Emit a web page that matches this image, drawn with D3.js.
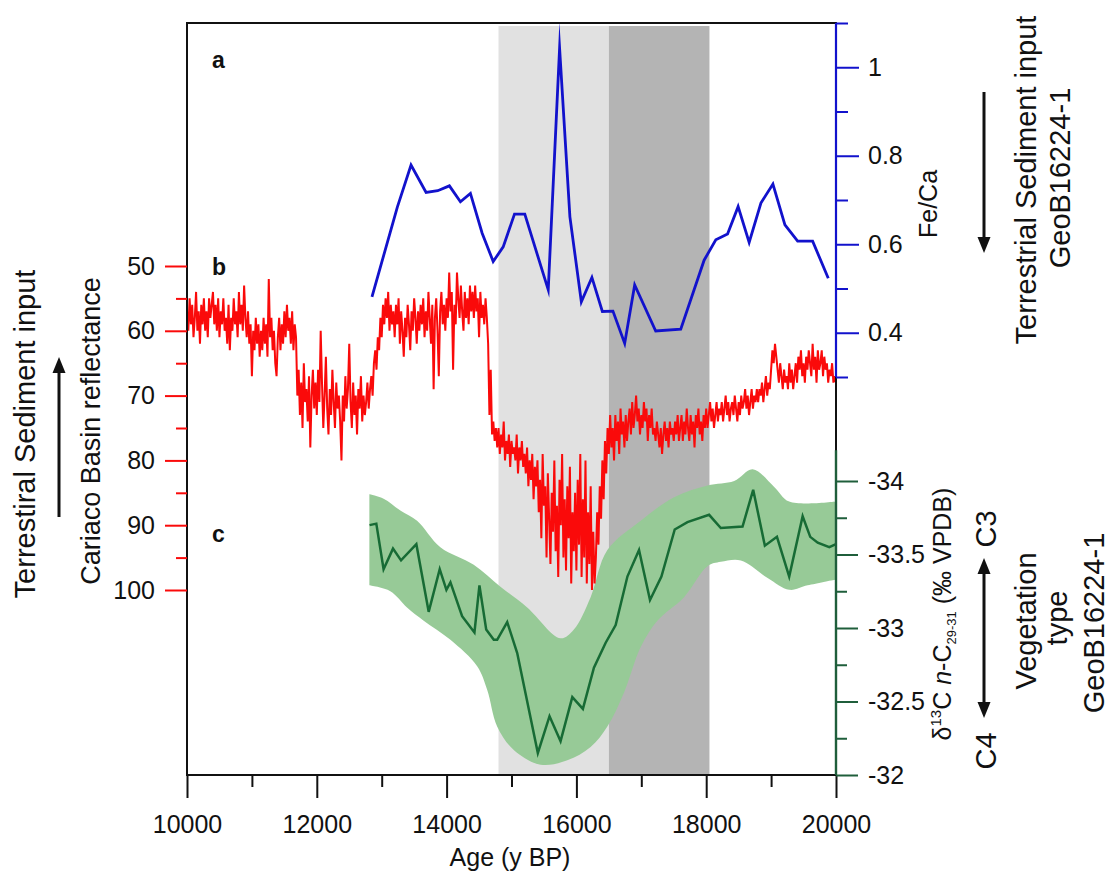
<!DOCTYPE html>
<html>
<head>
<meta charset="utf-8">
<script src="https://cdn.jsdelivr.net/npm/d3@7"></script>
<style>
  body { margin: 0; background: #fff; }
  svg text { font-family: "Liberation Sans", Arial, sans-serif; fill: #111; }
</style>
</head>
<body>
<script>
  // ---- data ----
  const bandLight = [14800, 16500]
  const bandDark = [16500, 18050]

  // a: Fe/Ca GeoB16224-1
  const feAge = [12850, 13241, 13452, 13684, 13863, 14043, 14213, 14367, 14548, 14718,
    14872, 15046, 15205, 15566, 15741, 15900, 16076, 16239, 16400, 16563,
    16744, 16898, 17222, 17608, 17968, 18148, 18329, 18492, 18662, 18843,
    19028, 19213, 19409, 19640, 19881]
  const feCa = [0.481, 0.684, 0.779, 0.717, 0.721, 0.732, 0.696, 0.715, 0.625, 0.561,
    0.594, 0.668, 0.668, 0.497, 1.043, 0.662, 0.470, 0.525, 0.448, 0.449,
    0.376, 0.508, 0.404, 0.408, 0.564, 0.610, 0.623, 0.685, 0.604, 0.693,
    0.736, 0.644, 0.607, 0.607, 0.523]

  // b: Cariaco Basin reflectance, one value every 20 years from 10000 (rows of 400 y)
  const reflStart = 10000
  const reflStep = 20
  const refl = [
    57, 60, 55, 59, 56, 61, 58, 54, 60, 57, 62, 56, 59, 55, 60, 57, 61, 55, 58, 56,
    54, 59, 56, 60, 55, 61, 57, 59, 55, 60, 58, 62, 56, 63, 58, 60, 55, 59, 57, 61,
    54, 59, 56, 60, 53, 58, 61, 57, 62, 59, 67, 60, 63, 58, 62, 59, 64, 60, 63, 58,
    62, 59, 64, 52, 61, 58, 63, 60, 65, 67, 61, 58, 63, 59, 62, 57, 61, 56, 60, 58,
    62, 57, 63, 59, 61, 70, 66, 73, 68, 75, 65, 71, 69, 74, 67, 78, 70, 66, 72, 68,
    73, 66, 71, 60, 68, 75, 70, 64, 72, 76, 69, 73, 66, 71, 75, 68, 72, 70, 74, 80,
    70, 74, 67, 72, 69, 62, 71, 75, 68, 73, 70, 76, 69, 72, 67, 74, 70, 73, 71, 68,
    72, 69, 67, 70, 65, 63, 66, 61, 63, 58, 61, 56, 59, 55, 58, 54, 60, 56, 59, 57,
    61, 56, 59, 55, 62, 57, 60, 64, 58, 61, 56, 59, 63, 57, 60, 55, 58, 62, 57, 60,
    56, 59, 55, 61, 57, 60, 54, 58, 62, 56, 69, 58, 55, 60, 67, 57, 54, 59, 56, 60,
    55, 58, 51, 57, 54, 66, 56, 59, 51, 55, 58, 53, 57, 60, 54, 58, 55, 59, 53, 57,
    54, 58, 53, 57, 55, 61, 54, 58, 56, 59, 55, 58, 62, 73, 66, 76, 74, 77, 75, 78,
    75, 79, 76, 78, 74, 80, 77, 79, 76, 81, 77, 79, 78, 80, 76, 82, 78, 80, 77, 81,
    79, 82, 78, 84, 80, 83, 79, 86, 81, 84, 80, 88, 83, 92, 79, 87, 84, 95, 82, 89,
    96, 85, 91, 80, 94, 87, 98, 83, 90, 79, 95, 86, 97, 84, 92, 81, 99, 88, 94, 85,
    97, 83, 93, 79, 98, 86, 95, 80, 99, 88, 96, 84, 100, 91, 99, 95, 88, 93, 84, 89,
    80, 86, 77, 82, 75, 79, 73, 78, 75, 80, 73, 77, 74, 79, 72, 76, 74, 78, 73, 77,
    74, 72, 76, 71, 75, 73, 70, 74, 72, 76, 73, 75, 71, 74, 72, 77, 73, 75, 72, 76,
    75, 77, 74, 76, 78, 75, 79, 76, 74, 77, 75, 78, 74, 76, 75, 77, 74, 76, 73, 77,
    75, 73, 77, 74, 76, 72, 75, 77, 73, 76, 74, 78, 73, 75, 72, 76, 74, 77, 73, 75,
    72, 75, 73, 71, 74, 72, 75, 73, 71, 74, 72, 73, 71, 74, 72, 70, 73, 71, 74, 72,
    71, 73, 70, 72, 74, 71, 73, 70, 72, 71, 69, 72, 70, 73, 71, 69, 72, 70, 71, 69,
    71, 69, 70, 68, 71, 69, 67, 70, 68, 69, 66, 63, 65, 62, 64, 66, 68, 65, 67, 69,
    66, 68, 67, 69, 65, 68, 66, 69, 67, 65, 68, 64, 66, 63, 67, 65, 68, 64, 66, 63,
    65, 67, 62, 66, 64, 68, 63, 66, 65, 63, 67, 64, 66, 65, 68, 66, 67, 65, 68, 67,
    68]

  // c: d13C n-C29-31 and its envelope
  const d13Age = [12813, 12917, 13029, 13174, 13298, 13534, 13724, 13894, 13997, 14059,
    14239, 14429, 14506, 14610, 14727, 14779, 14934, 15088, 15406, 15586,
    15756, 15937, 16100, 16270, 16451, 16605, 16786, 16965, 17134, 17310,
    17515, 17711, 18045, 18225, 18560, 18724, 18904, 19090, 19279, 19486,
    19603, 19718, 19897, 20000]
  const d13C = [-33.70, -33.71, -33.40, -33.54, -33.46, -33.57, -33.11, -33.40, -33.26, -33.31,
    -33.08, -32.97, -33.29, -32.99, -32.92, -32.92, -33.04, -32.83, -32.15, -32.40,
    -32.23, -32.53, -32.45, -32.73, -32.90, -33.02, -33.35, -33.53, -33.19, -33.35,
    -33.67, -33.72, -33.77, -33.68, -33.69, -33.94, -33.56, -33.62, -33.35, -33.76,
    -33.62, -33.58, -33.55, -33.57]
  const envUpperAge = [12810, 13029, 13287, 13545, 13904, 14418, 14830, 15242, 15756, 15961,
    16219, 16477, 16991, 17505, 18020, 18431, 18715, 19048, 19279, 20000]
  const envUpper = [-33.91, -33.88, -33.80, -33.73, -33.55, -33.43, -33.28, -33.14, -32.93, -32.99,
    -33.21, -33.53, -33.73, -33.89, -33.97, -34.00, -34.08, -33.96, -33.86, -33.86]
  const envLowerAge = [12810, 13133, 13390, 13647, 14059, 14471, 14625, 14779, 15035, 15448,
    15860, 16219, 16477, 16733, 16991, 17248, 17659, 18020, 18225, 18534,
    18946, 19279, 19563, 20000]
  const envLower = [-33.29, -33.25, -33.14, -33.05, -32.92, -32.74, -32.58, -32.33, -32.17, -32.07,
    -32.10, -32.19, -32.33, -32.56, -32.87, -33.05, -33.21, -33.42, -33.45, -33.46,
    -33.34, -33.26, -33.29, -33.33]

  const ageTicks = [10000, 12000, 14000, 16000, 18000, 20000]
  const ageMinor = [11000, 13000, 15000, 17000, 19000]
  const reflTicks = [50, 60, 70, 80, 90, 100]
  const reflMinor = [55, 65, 75, 85, 95]
  const feTicks = [0.4, 0.6, 0.8, 1]
  const feMinor = [0.3, 0.5, 0.7, 0.9, 1.1]
  const d13Ticks = [-34, -33.5, -33, -32.5, -32]
  const d13Minor = [-33.75, -33.25, -32.75, -32.25]

  // ---- layout ----
  const W = 1112, H = 873
  const L = 187, R = 836, T = 23, B = 775
  const red = '#fa0a0a', blue = '#1212cc', green = '#176b35', greenAxis = '#1f5e3b', greenFill = '#97ca97'
  const tickFont = 25, bigFont = 29

  const svg = d3.select('body').append('svg').attr('width', W).attr('height', H)

  const x = d3.scaleLinear().domain([10000, 20000]).range([L, R])
  const yFe = d3.scaleLinear().domain([0.3, 1.1]).range([377, T])
  const yRefl = d3.scaleLinear().domain([50, 100]).range([266, 590])
  const yD13 = d3.scaleLinear().domain([-32, -34]).range([B, 481])

  // shaded intervals
  svg.append('rect').attr('x', x(bandLight[0])).attr('y', 26)
    .attr('width', x(bandLight[1]) - x(bandLight[0])).attr('height', B - 26).attr('fill', '#e1e1e1')
  svg.append('rect').attr('x', x(bandDark[0])).attr('y', 26)
    .attr('width', x(bandDark[1]) - x(bandDark[0])).attr('height', B - 26).attr('fill', '#b4b4b4')

  // envelope: smooth edges, straight ends
  const smooth = d3.line().curve(d3.curveCatmullRom.alpha(0.5))
  const upperPath = smooth(envUpperAge.map((a, i) => [x(a), yD13(envUpper[i])]))
  const lowerPath = smooth(envLowerAge.map((a, i) => [x(a), yD13(envLower[i])]).reverse())
  svg.append('path')
    .attr('d', upperPath + 'L' + lowerPath.slice(1) + 'Z')
    .attr('fill', greenFill)

  const lineGen = d3.line().x(d => d[0]).y(d => d[1])

  svg.append('path')
    .attr('d', lineGen(d13Age.map((a, i) => [x(a), yD13(d13C[i])])))
    .attr('fill', 'none').attr('stroke', green).attr('stroke-width', 2.5)

  svg.append('path')
    .attr('d', lineGen(refl.map((v, i) => [x(reflStart + i * reflStep), yRefl(v)])))
    .attr('fill', 'none').attr('stroke', red).attr('stroke-width', 2)

  svg.append('path')
    .attr('d', lineGen(feAge.map((a, i) => [x(a), yFe(feCa[i])])))
    .attr('fill', 'none').attr('stroke', blue).attr('stroke-width', 2.8)
    .attr('stroke-linejoin', 'miter').attr('stroke-miterlimit', 20)

  // ---- axes ----
  function styleAxis(g, color, size) {
    g.select('.domain').remove()
    g.selectAll('line').attr('stroke', color).attr('stroke-width', 2)
    g.selectAll('text').attr('font-size', size).style('fill', '#111')
  }

  // frame
  svg.append('path')
    .attr('d', `M${L},${T}H${R}V${B}H${L}Z`)
    .attr('fill', 'none').attr('stroke', '#111').attr('stroke-width', 2)

  // bottom
  svg.append('g').attr('transform', `translate(0,${B})`)
    .call(d3.axisBottom(x).tickValues(ageTicks).tickSize(23).tickPadding(17).tickFormat(d3.format('d')))
    .call(g => styleAxis(g, '#111', tickFont))
  svg.append('g').attr('transform', `translate(0,${B})`)
    .call(d3.axisBottom(x).tickValues(ageMinor).tickSize(12).tickFormat(''))
    .call(g => styleAxis(g, '#111', tickFont))

  // left red
  svg.append('g').attr('transform', `translate(${L},0)`)
    .call(d3.axisLeft(yRefl).tickValues(reflTicks).tickSize(22).tickPadding(10).tickFormat(d3.format('d')))
    .call(g => styleAxis(g, red, tickFont))
  svg.append('g').attr('transform', `translate(${L},0)`)
    .call(d3.axisLeft(yRefl).tickValues(reflMinor).tickSize(11).tickFormat(''))
    .call(g => styleAxis(g, red, tickFont))

  // right blue
  svg.append('line').attr('x1', R).attr('x2', R).attr('y1', T).attr('y2', yFe(0.3))
    .attr('stroke', blue).attr('stroke-width', 2.2)
  svg.append('g').attr('transform', `translate(${R},0)`)
    .call(d3.axisRight(yFe).tickValues(feTicks).tickSize(23).tickPadding(9).tickFormat(d => String(d)))
    .call(g => styleAxis(g, blue, tickFont))
  svg.append('g').attr('transform', `translate(${R},0)`)
    .call(d3.axisRight(yFe).tickValues(feMinor).tickSize(12).tickFormat(''))
    .call(g => styleAxis(g, blue, tickFont))

  // right green
  svg.append('line').attr('x1', R).attr('x2', R).attr('y1', yD13(-34.21)).attr('y2', B)
    .attr('stroke', greenAxis).attr('stroke-width', 2.4)
  svg.append('g').attr('transform', `translate(${R},0)`)
    .call(d3.axisRight(yD13).tickValues(d13Ticks).tickSize(22).tickPadding(10).tickFormat(d => String(d)))
    .call(g => styleAxis(g, greenAxis, tickFont))
  svg.append('g').attr('transform', `translate(${R},0)`)
    .call(d3.axisRight(yD13).tickValues(d13Minor).tickSize(11).tickFormat(''))
    .call(g => styleAxis(g, greenAxis, tickFont))

  // ---- text ----
  svg.append('text').attr('x', 510).attr('y', 866).attr('text-anchor', 'middle')
    .attr('font-size', tickFont).text('Age (y BP)')

  ;[['a', 68], ['b', 275], ['c', 542]].forEach(([t, yy]) => {
    svg.append('text').attr('x', 212).attr('y', yy).attr('font-size', 23)
      .attr('font-weight', 'bold').text(t)
  })

  function vtext(cx, cy, str, size) {
    return svg.append('text').attr('transform', `translate(${cx},${cy}) rotate(-90)`)
      .attr('text-anchor', 'middle').attr('font-size', size).text(str)
  }

  vtext(35, 434, 'Terrestiral Sediment input', bigFont)
  vtext(100, 431, 'Cariaco Basin reflectance', 27)
  vtext(937, 204, 'Fe/Ca', tickFont)
  vtext(1036, 180, 'Terrestrial Sediment input', bigFont)
  vtext(1070, 178, 'GeoB16224-1', bigFont)
  vtext(996, 529, 'C3', bigFont)
  vtext(996, 751, 'C4', bigFont)
  vtext(1036, 621, 'Vegetation', bigFont)
  vtext(1067, 618, 'type', bigFont)
  vtext(1104, 623, 'GeoB16224-1', bigFont)

  const d13Label = svg.append('text').attr('transform', 'translate(951,614) rotate(-90)')
    .attr('text-anchor', 'middle').attr('font-size', tickFont)
  d13Label.append('tspan').text('δ')
  d13Label.append('tspan').attr('font-size', 15).attr('dy', -10).text('13')
  d13Label.append('tspan').attr('dy', 10).text('C ')
  d13Label.append('tspan').attr('font-style', 'italic').text('n')
  d13Label.append('tspan').text('-C')
  d13Label.append('tspan').attr('font-size', 13).attr('dy', 5).text('29-31')
  d13Label.append('tspan').attr('dy', -5).text(' (‰ VPDB)')

  // arrows
  function head(xx, tipY, dir) {
    svg.append('path')
      .attr('d', `M${xx},${tipY}L${xx - 6.5},${tipY - dir * 16}L${xx + 6.5},${tipY - dir * 16}Z`)
      .attr('fill', '#111')
  }
  function arrow(xx, yFrom, yTo, both) {
    const dir = yTo > yFrom ? 1 : -1
    svg.append('line').attr('x1', xx).attr('x2', xx)
      .attr('y1', both ? yFrom + dir * 10 : yFrom).attr('y2', yTo - dir * 10)
      .attr('stroke', '#111').attr('stroke-width', 3)
    head(xx, yTo, dir)
    if (both) head(xx, yFrom, -dir)
  }
  arrow(59, 517, 357, false)
  arrow(984, 92, 253, false)
  arrow(984, 558, 718, true)
</script>
</body>
</html>
